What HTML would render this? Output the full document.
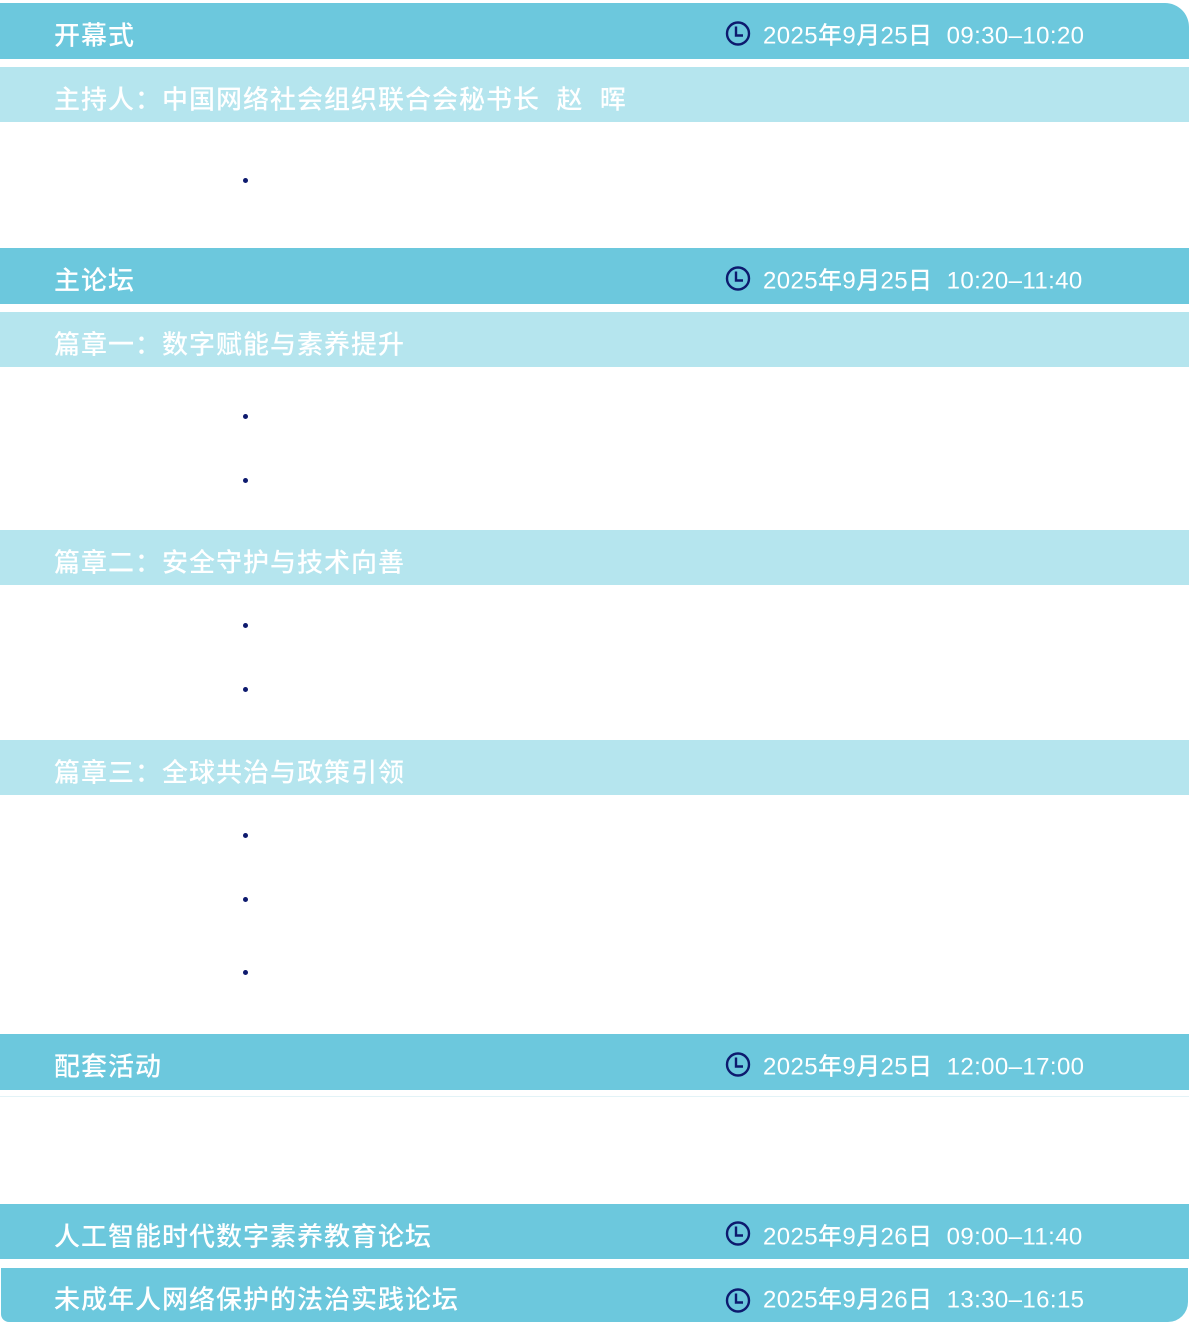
<!DOCTYPE html>
<html><head><meta charset="utf-8"><style>
body{margin:0;width:1189px;height:1323px;background:#fff;position:relative;overflow:hidden;font-family:"Liberation Sans","Noto Sans CJK SC",sans-serif;}
.bar{position:absolute;left:0;width:1189px;color:#fff;font-weight:500;font-size:26px;box-sizing:border-box;}
.d{background:#6CC8DD;}
.l{background:#B5E5EE;}
.t{position:absolute;left:54px;top:calc(50% + 3px);transform:translateY(-50%);white-space:nowrap;letter-spacing:1px;}
.tm{position:absolute;left:725px;top:calc(50% + 2px);transform:translateY(-50%);white-space:nowrap;display:flex;align-items:center;font-size:24px;letter-spacing:0.4px;}
.tm svg{margin-right:12px;}
.b{position:absolute;left:243px;width:5px;height:5px;border-radius:50%;background:#0D1A6E;}
</style></head><body>
<svg width="0" height="0" style="position:absolute"><defs><symbol id="c" viewBox="0 0 26 26"><circle cx="13" cy="13" r="11" fill="none" stroke="#0D1A6E" stroke-width="2.4"/><path d="M11 6v9h7" fill="none" stroke="#0D1A6E" stroke-width="2.4"/></symbol></defs></svg>

<div class="bar d" style="top:3px;height:56px;border-top-right-radius:24px;"><span class="t">开幕式</span><span class="tm"><svg width="26" height="26"><use href="#c"/></svg>2025年9月25日&nbsp;&nbsp;09:30–10:20</span></div>
<div class="bar l" style="top:67px;height:55px;"><span class="t">主持人：中国网络社会组织联合会秘书长&nbsp;&nbsp;赵&nbsp;&nbsp;晖</span></div>
<div class="b" style="top:178px"></div>

<div class="bar d" style="top:248px;height:56px;"><span class="t">主论坛</span><span class="tm"><svg width="26" height="26"><use href="#c"/></svg>2025年9月25日&nbsp;&nbsp;10:20–11:40</span></div>
<div class="bar l" style="top:312px;height:55px;"><span class="t">篇章一：数字赋能与素养提升</span></div>
<div class="b" style="top:414px"></div>
<div class="b" style="top:478px"></div>
<div class="bar l" style="top:530px;height:55px;"><span class="t">篇章二：安全守护与技术向善</span></div>
<div class="b" style="top:623px"></div>
<div class="b" style="top:687px"></div>
<div class="bar l" style="top:740px;height:55px;"><span class="t">篇章三：全球共治与政策引领</span></div>
<div class="b" style="top:833px"></div>
<div class="b" style="top:897px"></div>
<div class="b" style="top:970px"></div>

<div class="bar d" style="top:1034px;height:56px;"><span class="t">配套活动</span><span class="tm"><svg width="26" height="26"><use href="#c"/></svg>2025年9月25日&nbsp;&nbsp;12:00–17:00</span></div>
<div style="position:absolute;left:0;top:1096px;width:1189px;height:1px;background:#e3f3f7"></div>
<div class="bar d" style="top:1204px;height:55px;"><span class="t">人工智能时代数字素养教育论坛</span><span class="tm"><svg width="26" height="26"><use href="#c"/></svg>2025年9月26日&nbsp;&nbsp;09:00–11:40</span></div>
<div class="bar d" style="top:1268px;height:54px;left:1px;width:1187px;border-bottom-left-radius:8px;border-bottom-right-radius:20px;"><span class="t" style="left:53px">未成年人网络保护的法治实践论坛</span><span class="tm" style="left:724px;"><svg width="26" height="26" style="margin-top:6px"><use href="#c"/></svg>2025年9月26日&nbsp;&nbsp;13:30–16:15</span></div>
</body></html>
